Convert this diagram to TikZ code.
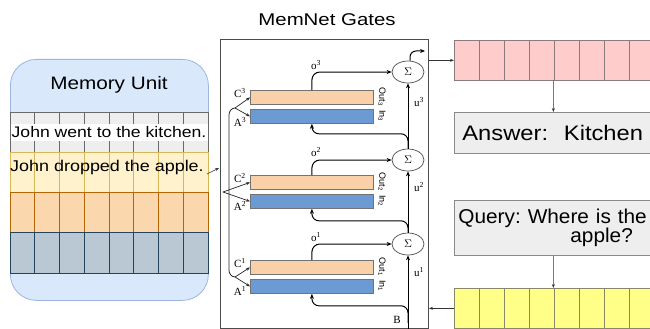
\documentclass[tikz,border=0pt]{standalone}
\usepackage{fontspec}
\usepackage{graphicx}
\setmainfont{Liberation Sans}
\newfontfamily\serifont{Liberation Serif}
\usetikzlibrary{shapes.geometric,arrows.meta,calc}
\definecolor{memblue}{HTML}{DAE8FC}
\definecolor{memline}{HTML}{9DB6DD}
\definecolor{rowaf}{HTML}{EEEEEE}\definecolor{rowal}{HTML}{6A6A6A}
\definecolor{rowbf}{HTML}{FFF2CC}\definecolor{rowbl}{HTML}{D6B656}
\definecolor{rowcf}{HTML}{FAD7AC}\definecolor{rowcl}{HTML}{B46504}
\definecolor{rowdf}{HTML}{BAC8D3}\definecolor{rowdl}{HTML}{23445D}
\definecolor{peach}{HTML}{F9D0A8}
\definecolor{gblue}{HTML}{6C9BD3}
\definecolor{pinkf}{HTML}{FFCCCC}\definecolor{pinkl}{HTML}{8C7B7B}
\definecolor{yelf}{HTML}{FFFF88}\definecolor{yell}{HTML}{888866}
\definecolor{boxf}{HTML}{EEEEEE}\definecolor{boxl}{HTML}{8A8A8A}
\newcommand{\sx}[2]{\scalebox{#1}[1]{#2}}
\frenchspacing
\begin{document}
\begin{tikzpicture}[x=1pt,y=-1pt,
  arr/.style={-{Stealth[length=5pt,width=4pt]}, line width=1pt, black},
  farr/.style={-{Stealth[length=4pt,width=3pt]}, line width=0.7pt, black!85},
  thinarr/.style={-{Stealth[length=4pt,width=3pt]}, line width=0.6pt, black!80},
  gatebar/.style={draw=black!55, line width=0.8pt, minimum width=123pt, minimum height=14pt, inner sep=0pt, anchor=north west},
  sigma/.style={ellipse, draw=black!70, line width=0.7pt, minimum width=32pt, minimum height=22pt, inner sep=0pt, font=\serifont\fontsize{11}{11}\selectfont},
  lab/.style={font=\serifont\fontsize{11}{11}\selectfont, inner sep=0pt},
  io/.style={font=\fontsize{9}{9}\selectfont, rotate=-90, inner sep=0pt},
  cellrow/.style={minimum width=198pt, minimum height=40pt, anchor=north west, inner sep=0pt, line width=0.7pt},
  txtbox/.style={draw=boxl, fill=boxf, line width=0.8pt, minimum width=198pt, anchor=north west, align=left}
]
\useasboundingbox (0,0) rectangle (650,329);
\fill[white] (0,0) rectangle (650,329);
\clip (0,0) rectangle (650,329);

% title
\node[font=\fontsize{17}{17}\selectfont] (title) at (327,20) {\sx{1.2}{MemNet Gates}};

% memory unit
\node[draw=memline, fill=memblue, rounded corners=26pt, minimum width=198pt, minimum height=241pt, anchor=north west, inner sep=0pt, line width=0.8pt] (mem) at (10,59) {};
\node[font=\fontsize{18}{18}\selectfont] (memtitle) at (109,85) {\sx{1.15}{Memory Unit}};
\foreach \yy/\ff/\ll in {112/rowaf/rowal, 152.25/rowbf/rowbl, 192.5/rowcf/rowcl, 232.75/rowdf/rowdl}{
  \draw[fill=\ff, draw=\ll, line width=0.7pt] (10,\yy) rectangle (208,\yy+40.25);
  \foreach \i in {1,...,7} \draw[\ll, line width=0.7pt] (10+\i*24.75,\yy) -- (10+\i*24.75,\yy+40.25);
}
\node[fill=white, inner sep=0pt, minimum width=197pt, minimum height=17pt, font=\fontsize{15.3}{15.3}\selectfont] (s1) at (109,132) {\sx{1.15}{John went to the kitchen.}};
\node[inner sep=0pt, font=\fontsize{15.6}{15.6}\selectfont] (s2) at (107,167) {\sx{1.15}{John dropped the apple.}};
\coordinate (memout) at (207,174);
\coordinate (gin) at (219,168);
\draw[thinarr] (memout) -- (gin);

% gates box
\node[draw=black!70, line width=0.9pt, minimum width=208pt, minimum height=289pt, anchor=north west, inner sep=0pt] (gates) at (220,39) {};

\node[gatebar, fill=peach] (C3) at (250,90) {};
\node[gatebar, fill=gblue] (A3) at (250,109) {};
\node[gatebar, fill=peach] (C2) at (250,175) {};
\node[gatebar, fill=gblue] (A2) at (250,194) {};
\node[gatebar, fill=peach] (C1) at (250,260) {};
\node[gatebar, fill=gblue] (A1) at (250,279) {};

\node[sigma] (S3) at (408,72) {$\Sigma$};
\node[sigma] (S2) at (408,160) {$\Sigma$};
\node[sigma] (S1) at (408,244) {$\Sigma$};

\node[lab] (lC3) at (240,93) {C\textsuperscript{3}};
\node[lab] (lA3) at (240,122) {A\textsuperscript{3}};
\node[lab] (lC2) at (240,178) {C\textsuperscript{2}};
\node[lab] (lA2) at (240,206) {A\textsuperscript{2}};
\node[lab] (lC1) at (240,263) {C\textsuperscript{1}};
\node[lab] (lA1) at (240,291) {A\textsuperscript{1}};

\node[io] (o3t) at (382,97) {Out\textsubscript{3}};
\node[io] (i3t) at (382,116) {In\textsubscript{3}};
\node[io] (o2t) at (382,182) {Out\textsubscript{2}};
\node[io] (i2t) at (382,201) {In\textsubscript{2}};
\node[io] (o1t) at (382,267) {Out\textsubscript{1}};
\node[io] (i1t) at (382,286) {In\textsubscript{1}};

\node[lab] (lo3) at (316,65) {o\textsuperscript{3}};
\node[lab] (lo2) at (316,152) {o\textsuperscript{2}};
\node[lab] (lo1) at (316,237) {o\textsuperscript{1}};
\node[lab] (lu3) at (419,102) {u\textsuperscript{3}};
\node[lab] (lu2) at (419,187) {u\textsuperscript{2}};
\node[lab] (lu1) at (419,272) {u\textsuperscript{1}};
\node[lab] (lB) at (397,320) {B};

% o connectors
\draw[arr, rounded corners=8pt] (C3.north) |- (S3.west);
\draw[arr, rounded corners=8pt] (C2.north) |- (S2.west);
\draw[arr, rounded corners=8pt] (C1.north) |- (S1.west);

% u chain
\coordinate (Bin) at (gates.south -| S1.south);
\draw[arr] (Bin) -- (S1.south);
\draw[arr] (S1.north) -- (S2.south);
\draw[arr] (S2.north) -- (S3.south);

% feedback to A
\draw[arr, rounded corners=7pt] ([yshift=6pt]Bin) |- ([yshift=-12pt]A1.south) -- (A1.south);
\draw[arr, rounded corners=7pt] (S1.north) |- ([yshift=-12pt]A2.south) -- (A2.south);
\draw[arr, rounded corners=7pt] (S2.north) |- ([yshift=-10pt]A3.south) -- (A3.south);

% output of top sigma
\coordinate (s3o) at (425,51);
\draw[arr, rounded corners=6pt] ([xshift=2pt]S3.north) |- (s3o);

% forks
\coordinate (f3) at (235,108);
\coordinate (f2) at (223,192);
\coordinate (f1) at (235,277);
\draw[line width=0.8pt, black!85] (f3) to[out=180,in=90] (229,115) -- (229,270) to[out=-90,in=180] (f1);
\draw[farr] (f3) -- (C3.west);
\draw[farr] (f3) -- (A3.west);
\draw[farr] (f2) -- (C2.west);
\draw[farr] (f2) -- (A2.west);
\draw[farr] (f1) -- (C1.west);
\draw[farr] (f1) -- (A1.west);

% right column
\node[cellrow, draw=pinkl, fill=pinkf] (pink) at (454,40) {};
\foreach \i in {1,...,7} \draw[pinkl, line width=0.7pt] (454+\i*25,40) -- (454+\i*25,80);
\node[txtbox, minimum height=41pt, text width=182pt, inner xsep=8pt, font=\fontsize{21}{21}\selectfont] (ans) at (454,112) {\sx{1.13}{Answer:\ \ Kitchen}};
\node[txtbox, minimum height=55pt, text width=190pt, inner xsep=4pt, font=\fontsize{20}{19}\selectfont] (query) at (454,200) {\sx{1.04}{Query: Where is the}\\\hspace*{112pt}\sx{1.04}{apple?}};
\node[cellrow, draw=yell, fill=yelf] (yellow) at (454,288) {};
\foreach \i in {1,...,7} \draw[yell, line width=0.7pt] (454+\i*25,288) -- (454+\i*25,328);

\draw[thinarr] (gates.east |- pink.west) -- (pink.west);
\draw[thinarr] (pink.south) -- (ans.north);
\draw[thinarr] (query.south) -- (yellow.north);
\draw[thinarr] (yellow.west) -- (gates.east |- yellow.west);
\end{tikzpicture}
\end{document}
